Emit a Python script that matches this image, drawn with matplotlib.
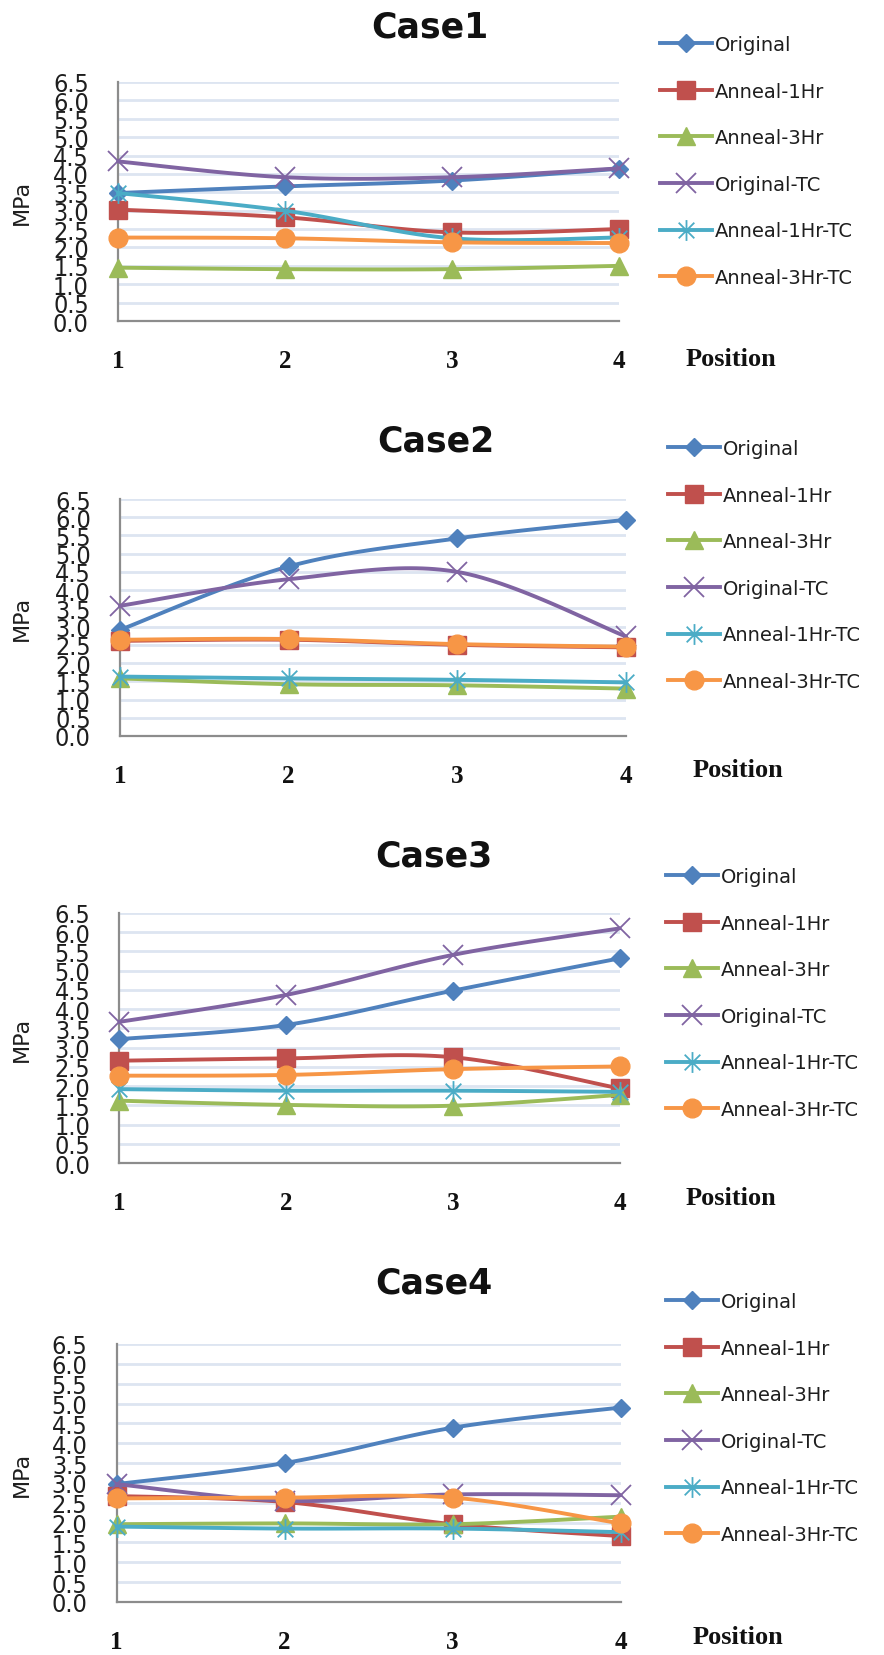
import numpy as np
import matplotlib.pyplot as plt
from matplotlib.lines import Line2D
from matplotlib.path import Path

W, H = 884, 1656

positions = [1, 2, 3, 4]
series_names = ['Original', 'Anneal-1Hr', 'Anneal-3Hr',
                'Original-TC', 'Anneal-1Hr-TC', 'Anneal-3Hr-TC']
case_titles = ['Case1', 'Case2', 'Case3', 'Case4']
y_ticks = [0.0, 0.5, 1.0, 1.5, 2.0, 2.5, 3.0, 3.5, 4.0, 4.5, 5.0, 5.5, 6.0, 6.5]

# MPa per position, one row per series (same order as series_names)
case1_values = [
    [3.48, 3.66, 3.82, 4.14],
    [3.03, 2.82, 2.41, 2.50],
    [1.45, 1.41, 1.41, 1.50],
    [4.34, 3.91, 3.91, 4.15],
    [3.48, 3.00, 2.25, 2.27],
    [2.27, 2.25, 2.14, 2.12],
]
case2_values = [
    [2.91, 4.65, 5.42, 5.93],
    [2.61, 2.64, 2.50, 2.43],
    [1.58, 1.42, 1.39, 1.30],
    [3.57, 4.30, 4.50, 2.73],
    [1.63, 1.58, 1.54, 1.47],
    [2.64, 2.66, 2.52, 2.45],
]
case3_values = [
    [3.22, 3.59, 4.48, 5.32],
    [2.66, 2.72, 2.75, 1.94],
    [1.62, 1.51, 1.49, 1.77],
    [3.67, 4.37, 5.41, 6.10],
    [1.92, 1.88, 1.88, 1.85],
    [2.27, 2.29, 2.44, 2.51],
]
case4_values = [
    [2.97, 3.50, 4.39, 4.90],
    [2.67, 2.52, 1.96, 1.66],
    [1.96, 1.98, 1.96, 2.15],
    [2.97, 2.55, 2.71, 2.69],
    [1.90, 1.85, 1.85, 1.76],
    [2.61, 2.63, 2.63, 1.98],
]
all_cases = [case1_values, case2_values, case3_values, case4_values]

colors = ['#4F81BD', '#C0504D', '#9BBB59', '#8064A2', '#4BACC6', '#F79646']

# excel style star: vertical bar plus an x
star = Path([(0, -1), (0, 1), (-0.75, -0.75), (0.75, 0.75), (-0.75, 0.75), (0.75, -0.75)],
            [Path.MOVETO, Path.LINETO, Path.MOVETO, Path.LINETO, Path.MOVETO, Path.LINETO])
markers = ['D', 's', '^', 'x', star, 'o']
msizes = [9.5, 13, 13.5, 15, 15, 13.5]

# panel layout in pixels: left, right, top, bottom of the plot area
boxes = [(118, 619, 83, 322), (120, 626, 500, 737),
         (119.5, 619.5, 914, 1164), (116.5, 620.6, 1345, 1603)]
title_y = [28, 442, 857, 1284]
title_x = [430, 436, 434, 434]
legend_top = [36, 440, 868, 1293]
legend_x = [660, 668, 666, 666]
pos_xy = [(731, 360), (738, 771), (731, 1199), (738, 1638)]

narrow = ['Liberation Sans Narrow', 'DejaVu Sans']


def excel_smooth(x, y, steps=30):
    pts = np.column_stack([x, y]).astype(float)
    ext = np.vstack([pts[0], pts, pts[-1]])
    t = np.linspace(0, 1, steps)[1:, None]
    out = [pts[0]]
    for i in range(len(pts) - 1):
        p0, p1, p2, p3 = ext[i], ext[i + 1], ext[i + 2], ext[i + 3]
        c1 = p1 + (p2 - p0) / 6
        c2 = p2 - (p3 - p1) / 6
        seg = (1 - t) ** 3 * p1 + 3 * (1 - t) ** 2 * t * c1 + 3 * (1 - t) * t ** 2 * c2 + t ** 3 * p2
        out.extend(seg)
    out = np.array(out)
    return out[:, 0], out[:, 1]


def marker_kw(i):
    kw = dict(marker=markers[i], markersize=msizes[i], color=colors[i])
    if i in (3, 4):
        kw.update(markeredgecolor=colors[i], markeredgewidth=1.3, markerfacecolor='none')
    else:
        kw.update(markeredgecolor=colors[i], markerfacecolor=colors[i])
    return kw


fig = plt.figure(figsize=(W / 100, H / 100), dpi=100)

for k, values in enumerate(all_cases):
    l, r, t, b = boxes[k]
    ax = fig.add_axes([l / W, 1 - b / H, (r - l) / W, (b - t) / H])

    for i, vals in enumerate(values):
        sx, sy = excel_smooth(positions, vals)
        ax.plot(sx, sy, color=colors[i], lw=2.8, solid_capstyle='round', clip_on=False, zorder=3 + i)
        ax.plot(positions, vals, ls='none', clip_on=False, zorder=3 + i, **marker_kw(i))

    ax.set_xlim(1, 4)
    ax.set_ylim(0, 6.5)
    ax.set_yticks(y_ticks)
    ax.set_yticklabels([f'{v:.1f}' for v in y_ticks], family=narrow, fontstretch='condensed',
                       fontsize=18, color='#1e1e1e')
    ax.set_xticks(positions)
    ax.set_xticklabels([str(p) for p in positions], family='Liberation Serif',
                       fontweight='bold', fontsize=18, color='#111111')
    ax.tick_params(axis='y', length=0, pad=21)
    ax.tick_params(axis='x', length=0, pad=20)
    ax.grid(axis='y', color='#dde5f1', lw=2)
    ax.set_axisbelow(True)
    for side in ('top', 'right'):
        ax.spines[side].set_visible(False)
    for side in ('left', 'bottom'):
        ax.spines[side].set_color('#8c8c8c')
        ax.spines[side].set_linewidth(1.6)

    fig.text(title_x[k] / W, 1 - title_y[k] / H, case_titles[k], ha='center', va='center',
             fontsize=25, fontweight='bold', color='#111111')
    fig.text(22 / W, 1 - (t + b) / 2 / H, 'MPa', rotation=90, ha='center', va='center',
             fontsize=16, color='#1e1e1e')
    px, py = pos_xy[k]
    fig.text(px / W, 1 - py / H, 'Position', ha='center', va='center',
             family='Liberation Serif', fontweight='bold', fontsize=19, color='#111111')

    handles = [Line2D([], [], lw=2.8, **marker_kw(i)) for i in range(len(series_names))]
    fig.legend(handles, series_names, loc='upper left',
               bbox_to_anchor=(legend_x[k] / W, 1 - legend_top[k] / H),
               frameon=False, fontsize=14, handlelength=2.65, handletextpad=0.15,
               labelspacing=1.42, borderpad=0, borderaxespad=0, numpoints=1,
               labelcolor='#1e1e1e')

fig.savefig('out.png', dpi=100)
